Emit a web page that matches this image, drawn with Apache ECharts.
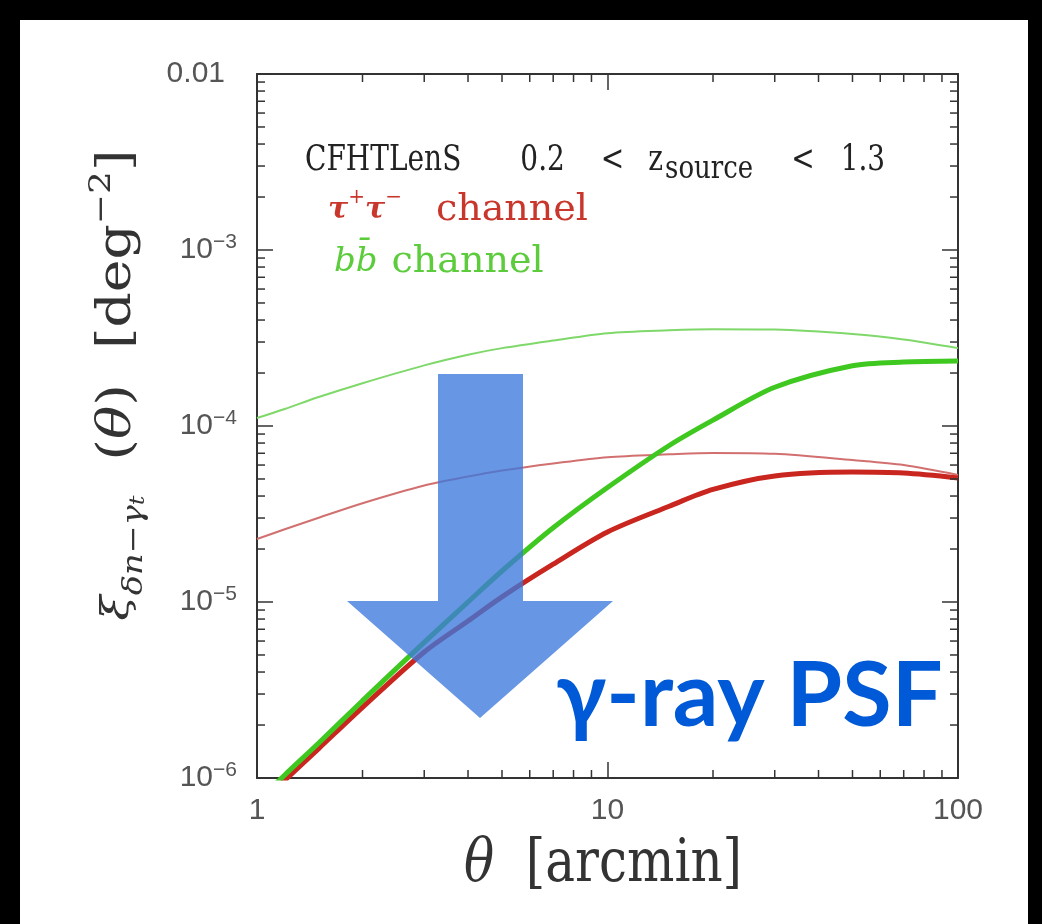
<!DOCTYPE html>
<html>
<head>
<meta charset="utf-8">
<script src="https://cdn.jsdelivr.net/npm/echarts@6/dist/echarts.min.js"></script>
<style>
  html, body { margin: 0; padding: 0; background: #000; }
  #frame { position: relative; width: 1042px; height: 924px; background: #000; overflow: hidden; }
  #paper { position: absolute; left: 20px; top: 20px; width: 1008px; height: 904px; background: #fff; }
  #main { position: absolute; left: 0; top: 0; width: 1042px; height: 924px; }
</style>
</head>
<body>
<div id="frame">
  <div id="paper"></div>
  <div id="main"></div>
</div>
<script>
// theta grid [arcmin]
const theta = [1, 1.2, 1.5, 2, 3, 4, 5, 7, 10, 15, 20, 30, 50, 70, 100];
// thick curves
const bbThick = [7.3e-7, 1.04e-6, 1.58e-6, 2.75e-6, 5.9e-6, 1.0e-5, 1.5e-5, 2.64e-5, 4.47e-5, 7.75e-5, 1.08e-4, 1.66e-4, 2.2e-4, 2.31e-4, 2.34e-4];
const tauThick = [6.9e-7, 9.7e-7, 1.47e-6, 2.52e-6, 5.2e-6, 7.8e-6, 1.07e-5, 1.64e-5, 2.5e-5, 3.5e-5, 4.36e-5, 5.2e-5, 5.47e-5, 5.4e-5, 5.07e-5];
// thin curves
const bbThin = [1.11e-4, 1.25e-4, 1.46e-4, 1.75e-4, 2.21e-4, 2.54e-4, 2.77e-4, 3.06e-4, 3.37e-4, 3.5e-4, 3.55e-4, 3.53e-4, 3.33e-4, 3.1e-4, 2.77e-4];
const tauThin = [2.28e-5, 2.59e-5, 3.01e-5, 3.64e-5, 4.59e-5, 5.16e-5, 5.58e-5, 6.12e-5, 6.65e-5, 6.9e-5, 7.03e-5, 6.95e-5, 6.4e-5, 6.0e-5, 5.27e-5];

const xMin = 1, xMax = 100;
const yMin = 1e-6, yMax = 1e-2;
const xMinorTicks = [2, 3, 4, 5, 6, 7, 8, 9, 20, 30, 40, 50, 60, 70, 80, 90];
const yMinorTicks = [];
for (let k = -6; k <= -3; k++) {
  for (let m = 2; m <= 9; m++) yMinorTicks.push(m * Math.pow(10, k));
}

const chart = echarts.init(document.getElementById("main"), null, { renderer: "canvas" });

const pair = (ys) => theta.map((t, i) => [t, ys[i]]);
const axisColor = "#333";
const labelFont = "Liberation Sans";
const serif = "DejaVu Serif";
const red = "#c8362c";
const green = "#5ccc3c";

const yLabel = (v) => {
  const e = Math.round(Math.log10(v));
  if (e === -2) return "{p|0.01}";
  return "{b|10}{s|\u2212" + -e + "}";
};

const minorTickSeries = (values, vertical) => ({
  type: "custom",
  coordinateSystem: "cartesian2d",
  silent: true,
  animation: false,
  z: 5,
  data: values.map((v) => (vertical ? [v, yMin] : [xMin, v])),
  renderItem: (params, api) => {
    const style = { stroke: axisColor, lineWidth: 1.5 };
    if (vertical) {
      const v = api.value(0);
      const b = api.coord([v, yMin]);
      const t = api.coord([v, yMax]);
      return {
        type: "group",
        children: [
          { type: "line", shape: { x1: b[0], y1: b[1], x2: b[0], y2: b[1] - 8 }, style },
          { type: "line", shape: { x1: t[0], y1: t[1], x2: t[0], y2: t[1] + 8 }, style },
        ],
      };
    }
    const v = api.value(1);
    const l = api.coord([xMin, v]);
    const r = api.coord([xMax, v]);
    return {
      type: "group",
      children: [
        { type: "line", shape: { x1: l[0], y1: l[1], x2: l[0] + 8, y2: l[1] }, style },
        { type: "line", shape: { x1: r[0], y1: r[1], x2: r[0] - 8, y2: r[1] }, style },
      ],
    };
  },
});

const lineSeries = (data, color, width, z) => ({
  type: "line",
  data: pair(data),
  showSymbol: false,
  smooth: 0.3,
  animation: false,
  clip: true,
  z,
  lineStyle: { color, width },
  itemStyle: { color },
});

const axisBase = {
  type: "log",
  logBase: 10,
  axisLine: { show: true, onZero: false, lineStyle: { color: axisColor, width: 2 } },
  axisTick: { show: true, inside: true, length: 16, lineStyle: { color: axisColor, width: 1.5 } },
  splitLine: { show: false },
};

const legendRich = (pad) => ({ fontFamily: serif, fontSize: 28, fill: "#222", lineHeight: 40, padding: [0, 0, 0, pad] });

const option = {
  animation: false,
  backgroundColor: "transparent",
  grid: { left: 257, top: 74, right: 84, bottom: 146, containLabel: false },
  xAxis: [
    Object.assign({}, axisBase, {
      min: xMin,
      max: xMax,
      position: "bottom",
      axisLabel: { color: "#555", fontFamily: labelFont, fontSize: 30, margin: 18 },
    }),
    Object.assign({}, axisBase, {
      min: xMin,
      max: xMax,
      position: "top",
      axisLabel: { show: false },
    }),
  ],
  yAxis: [
    Object.assign({}, axisBase, {
      min: yMin,
      max: yMax,
      position: "left",
      axisLabel: {
        margin: 20,
        formatter: yLabel,
        rich: {
          p: { color: "#555", fontFamily: labelFont, fontSize: 30, padding: [0, 12, 0, 0] },
          b: { color: "#555", fontFamily: labelFont, fontSize: 30, lineHeight: 36 },
          s: { color: "#555", fontFamily: labelFont, fontSize: 21, verticalAlign: "top" },
        },
      },
    }),
    Object.assign({}, axisBase, {
      min: yMin,
      max: yMax,
      position: "right",
      axisLabel: { show: false },
    }),
  ],
  series: [
    lineSeries(bbThin, "#7fd86a", 2, 2),
    lineSeries(tauThin, "#d27070", 2, 2),
    lineSeries(tauThick, "#c8261f", 5, 3),
    lineSeries(bbThick, "#3fc81f", 5, 4),
    minorTickSeries(xMinorTicks, true),
    minorTickSeries(yMinorTicks, false),
  ],
  graphic: [
    // x axis title
    {
      type: "text",
      x: 603,
      y: 835,
      scaleY: 1.2,
      z: 20,
      style: {
        text: "{i|\u03B8}{n|  [arcmin]}",
        align: "center",
        verticalAlign: "top",
        rich: {
          i: { fontFamily: serif, fontStyle: "italic", fontSize: 50, fill: "#333", lineHeight: 50 },
          n: { fontFamily: serif, fontSize: 50, fill: "#333", lineHeight: 50 },
        },
      },
    },
    // legend block
    {
      type: "text",
      x: 305,
      y: 136,
      scaleY: 1.25,
      z: 20,
      style: {
        text: "{n|CFHTLenS}{g1|0.2}{g2|<}{g3|z}{sub|source}{g4|<}{g5|1.3}",
        verticalAlign: "top",
        rich: {
          n: legendRich(0),
          g1: legendRich(59),
          g2: legendRich(36),
          g3: legendRich(24),
          sub: { fontFamily: serif, fontSize: 26, fill: "#222", verticalAlign: "bottom", padding: [0, 0, 0, 2] },
          g4: legendRich(38),
          g5: legendRich(26),
        },
      },
    },
    {
      type: "text",
      x: 328,
      y: 188,
      z: 20,
      style: {
        text: "{t|\u03C4}{s|+}{t|\u03C4}{s|\u2212}{n|channel}",
        verticalAlign: "top",
        rich: {
          t: { fontFamily: serif, fontStyle: "italic", fontWeight: "bold", fontSize: 30, fill: red, lineHeight: 44 },
          s: { fontFamily: serif, fontSize: 20, fill: red, verticalAlign: "top" },
          n: { fontFamily: serif, fontSize: 38, fill: red, lineHeight: 44, padding: [0, 0, 0, 34] },
        },
      },
    },
    {
      type: "text",
      x: 334,
      y: 240,
      z: 20,
      style: {
        text: "{t|b\u0062\u0304}{n|channel}",
        verticalAlign: "top",
        rich: {
          t: { fontFamily: serif, fontStyle: "italic", fontSize: 34, fill: green, lineHeight: 44 },
          n: { fontFamily: serif, fontSize: 38, fill: green, lineHeight: 44, padding: [0, 0, 0, 14] },
        },
      },
    },
    // y axis title
    {
      type: "text",
      x: 118,
      y: 385,
      rotation: Math.PI / 2,
      scaleX: 1.2,
      z: 20,
      style: {
        text: "{x|\u03BE}{sub|\u03B4n\u2212\u03B3}{subt|t}{n|  (}{th|\u03B8}{n|)  [deg}{sup|\u22122}{n|]}",
        align: "center",
        verticalAlign: "middle",
        rich: {
          x: { fontFamily: serif, fontStyle: "italic", fontSize: 38, fill: "#333", lineHeight: 62 },
          th: { fontFamily: serif, fontStyle: "italic", fontSize: 46, fill: "#333", lineHeight: 62 },
          n: { fontFamily: serif, fontSize: 46, fill: "#333", lineHeight: 62 },
          sub: { fontFamily: serif, fontStyle: "italic", fontSize: 28, fill: "#333", verticalAlign: "bottom" },
          subt: { fontFamily: serif, fontStyle: "italic", fontSize: 20, fill: "#333", verticalAlign: "bottom" },
          sup: { fontFamily: serif, fontSize: 30, fill: "#333", verticalAlign: "top" },
        },
      },
    },
    // arrow annotation
    {
      type: "polygon",
      z: 30,
      shape: {
        points: [
          [438, 374], [523, 374], [523, 601], [613, 601],
          [480, 718], [347, 601], [438, 601],
        ],
      },
      style: { fill: "rgba(60,120,220,0.78)" },
    },
    {
      type: "text",
      x: 556,
      y: 652,
      z: 31,
      style: {
        text: "\u03B3-ray PSF",
        verticalAlign: "top",
        font: "bold 90px Lato, 'Open Sans', sans-serif",
        fill: "#0059d6",
      },
    },
  ],
};

chart.setOption(option);
</script>
</body>
</html>
